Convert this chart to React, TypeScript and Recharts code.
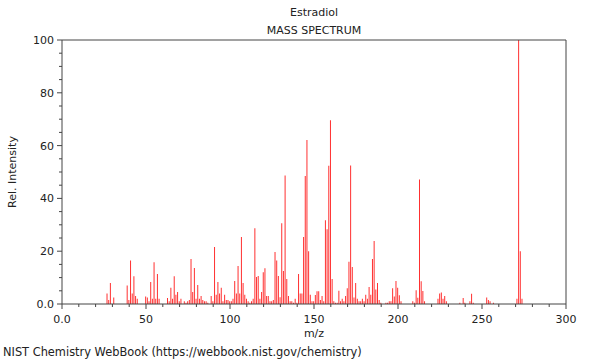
import { Bar, BarChart, ReferenceLine, XAxis, YAxis } from "recharts"

const FONT = "'DejaVu Sans', sans-serif"
const INK = "#222"
const FRAME = "#444"
const PEAK = "#ff3030"

// m/z und relative Intensität
const MZ = [
  27, 28, 29, 31, 39, 40, 41, 42, 43, 44, 45, 50, 51, 52, 53, 54, 55, 56, 57, 58,
  63, 64, 65, 66, 67, 68, 69, 70, 71, 73, 74, 75, 76, 77, 78, 79, 80, 81, 82, 83,
  84, 85, 86, 87, 89, 90, 91, 92, 93, 94, 95, 96, 97, 98, 99, 100, 101, 102, 103, 104,
  105, 106, 107, 108, 109, 110, 111, 112, 113, 114, 115, 116, 117, 118, 119, 120, 121, 122, 123, 124,
  125, 126, 127, 128, 129, 130, 131, 132, 133, 134, 135, 136, 137, 138, 139, 140, 141, 142, 143, 144,
  145, 146, 147, 148, 149, 150, 151, 152, 153, 154, 155, 156, 157, 158, 159, 160, 161, 162, 163, 164,
  165, 166, 167, 168, 169, 170, 171, 172, 173, 174, 175, 176, 177, 178, 179, 180, 181, 182, 183, 184,
  185, 186, 187, 188, 189, 190, 193, 194, 195, 196, 197, 198, 199, 200, 201, 202, 209, 210, 211, 212,
  213, 214, 215, 216, 224, 225, 226, 227, 228, 229, 237, 239, 240, 243, 244, 245, 253, 254, 255, 257,
  271, 272, 273, 274,
]
const INTENSITY = [
  4, 1.5, 8, 2.5, 7, 1.5, 16.5, 4, 10.5, 3, 2, 2.8, 2.5, 1, 8.3, 2, 15.8, 2, 11.4, 2,
  2.3, 1, 6.2, 2, 10.5, 3.5, 4.5, 1, 2, 1, 0.5, 1, 1.5, 17, 4.5, 13.6, 2, 7.2, 2, 3,
  1.5, 1, 1, 0.5, 3, 1, 21.6, 3.5, 8.3, 4, 6.2, 1, 3.5, 1.5, 1.5, 1, 1, 2, 8.7, 4,
  14.4, 4, 25.4, 8, 3.5, 2, 1, 0.5, 1, 2, 28.7, 10.2, 10.6, 2, 4.5, 12, 13.5, 3, 3, 1,
  1, 1.5, 19.7, 16.5, 10.6, 2.6, 30.6, 12.5, 48.7, 9.5, 3, 1, 1, 0.5, 2, 0.5, 11.4, 4, 4, 25.4,
  48.5, 62.1, 20, 3.5, 1, 1, 3.4, 4.8, 4.8, 1.5, 3, 1, 31.7, 28.3, 52.4, 69.6, 9.5, 1, 0.5, 0.5,
  5, 1, 2, 1, 3, 6, 16, 52.5, 14, 2.5, 8, 2, 1, 1, 2, 1, 3.5, 2, 6.4, 3.5,
  17, 23.9, 5.5, 8, 1.5, 0.5, 0.5, 0.5, 1, 1, 6, 2.8, 8.7, 6.2, 3.3, 1, 1, 0.5, 5.2, 2.4,
  47.2, 8.6, 4.9, 1, 2, 4, 4.4, 2, 3, 1, 0.5, 2.3, 0.5, 1, 3.9, 0.5, 2.5, 1.5, 1, 0.5,
  2, 100, 20, 2,
]
const X_TICKS = [0, 10, 20, 30, 40, 50, 60, 70, 80, 90, 100, 110, 120, 130, 140, 150, 160, 170, 180, 190, 200, 210, 220, 230, 240, 250, 260, 270, 280, 290, 300]
const Y_TICKS = [0, 5, 10, 15, 20, 25, 30, 35, 40, 45, 50, 55, 60, 65, 70, 75, 80, 85, 90, 95, 100]

const data = MZ.map((mz, i) => ({ mz, rel: INTENSITY[i] }))

const fmt = (v: number) => (v === 0 ? "0.0" : String(v))

function XTick({ x, y, payload }: any) {
  const major = payload.value % 50 === 0
  return (
    <g>
      <line x1={x} x2={x} y1={y} y2={y + (major ? 5 : 3)} stroke={FRAME} />
      {major && (
        <text x={x} y={y + 19} textAnchor="middle" fontSize={11} fontFamily={FONT} fill={INK}>
          {fmt(payload.value)}
        </text>
      )}
    </g>
  )
}

function YTick({ x, y, payload }: any) {
  const major = payload.value % 20 === 0
  return (
    <g>
      <line x1={x} x2={x - (major ? 5 : 3)} y1={y} y2={y} stroke={FRAME} />
      {major && (
        <text x={x - 8} y={y + 4} textAnchor="end" fontSize={11} fontFamily={FONT} fill={INK}>
          {fmt(payload.value)}
        </text>
      )}
    </g>
  )
}

const txt = { position: "absolute" as const, fontFamily: FONT, fontSize: 11, color: INK, whiteSpace: "nowrap" as const, lineHeight: "13px" }

export default function App() {
  return (
    <div style={{ position: "absolute", left: 0, top: 0, width: 600, height: 360, background: "#fff" }}>
      <div style={{ ...txt, left: 0, width: 628, top: 6, textAlign: "center" }}>Estradiol</div>
      <div style={{ ...txt, left: 0, width: 628, top: 24, textAlign: "center" }}>MASS SPECTRUM</div>
      <BarChart
        width={600}
        height={360}
        data={data}
        margin={{ top: 40, right: 34, left: 12, bottom: 26 }}
        barSize={1}
      >
        <XAxis
          dataKey="mz"
          type="number"
          domain={[0, 300]}
          ticks={X_TICKS}
          interval={0}
          height={30}
          tickSize={0}
          tickMargin={0}
          tickLine={false}
          axisLine={{ stroke: FRAME }}
          tick={<XTick />}
          allowDataOverflow
        />
        <YAxis
          type="number"
          domain={[0, 100]}
          ticks={Y_TICKS}
          interval={0}
          width={50}
          tickSize={0}
          tickMargin={0}
          tickLine={false}
          axisLine={{ stroke: FRAME }}
          tick={<YTick />}
          allowDataOverflow
        />
        <ReferenceLine y={100} stroke={FRAME} />
        <ReferenceLine x={300} stroke={FRAME} />
        <Bar dataKey="rel" fill={PEAK} isAnimationActive={false} />
      </BarChart>
      <div style={{ ...txt, left: 0, width: 628, top: 327, textAlign: "center" }}>m/z</div>
      <div
        style={{
          ...txt,
          left: 12,
          top: 172,
          transform: "translate(-50%, -50%) rotate(-90deg)",
        }}
      >
        Rel. Intensity
      </div>
      <div style={{ ...txt, fontSize: 11.4, left: 3, top: 346 }}>NIST Chemistry WebBook (https://webbook.nist.gov/chemistry)</div>
    </div>
  )
}
